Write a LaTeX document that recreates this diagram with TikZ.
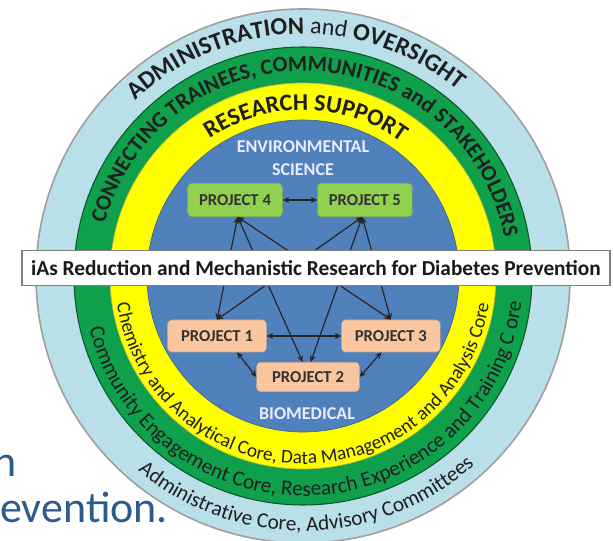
\documentclass[tikz,border=0pt]{standalone}
\usepackage{fontspec}
\setmainfont{Carlito}
\usetikzlibrary{positioning}
\usetikzlibrary{arrows.meta}
\usetikzlibrary{decorations.text}
\definecolor{adminblue}{HTML}{B9DFE9}
\definecolor{coregreen}{HTML}{0EA04A}
\definecolor{supportyellow}{HTML}{FFFF00}
\definecolor{scienceblue}{HTML}{4F81BD}
\definecolor{envgreen}{HTML}{92D050}
\definecolor{biopeach}{HTML}{F9C6A0}
\definecolor{slideblue}{HTML}{2D5C8A}
\tikzstyle{envproj}=[rectangle, rounded corners=3pt, fill=envgreen, draw=envgreen!85!black, minimum width=71pt, minimum height=25pt, inner sep=2pt, font=\fontsize{12.5}{13}\selectfont\bfseries, text=black!80]
\tikzstyle{bioproj}=[envproj, fill=biopeach, draw=biopeach!85!black, minimum width=74pt, minimum height=24pt]
\tikzstyle{area}=[text=white!92!blue, font=\fontsize{13.5}{17}\selectfont\bfseries, align=center]
\tikzstyle{link}=[<->, >={Stealth[length=5pt,width=4.5pt]}, line width=0.9pt, draw=black!85]
\tikzstyle{banner}=[rectangle, fill=white, draw=gray, line width=0.8pt, minimum width=441pt, minimum height=26pt, font=\fontsize{16}{18}\selectfont\bfseries, text=black!90]
\tikzstyle{slide}=[inner sep=0pt, text=slideblue, font=\fontsize{33}{33}\selectfont]
% fonts for the ring labels
\newcommand{\ringbf}{\fontsize{16.5}{16}\selectfont\bfseries\color{black!88}}
\newcommand{\ringmd}{\fontsize{16}{16}\selectfont\mdseries\color{black!88}}
\newcommand{\ringtext}[4]{\path[decorate, decoration={text along path, text align=center, text={#4}}] (#2:#1) arc[start angle=#2, end angle=#3, radius=#1];}

\begin{document}
\begin{tikzpicture}[x=0.75pt, y=0.75pt]
    \useasboundingbox (-303,-265) rectangle (310,276);
    \fill[white] (-303,-265) rectangle (310,276);

    % slide text behind the rings
    \node (prev) [slide, anchor=base west] at (-303,-246) {evention.};
    \node (redn) [slide, anchor=base east] at (-286,-200) {n};

    % rings
    \fill[adminblue, draw=gray!75, line width=1.2pt] (0,0) circle[radius=267];
    \fill[coregreen, draw=coregreen!55!black, line width=0.8pt] (0,0) circle[radius=229];
    \fill[supportyellow, draw=olive!60, line width=0.5pt] (0,0) circle[radius=193];
    \fill[scienceblue, draw=scienceblue!75!black, line width=0.5pt] (0,0) circle[radius=156];

    % ring labels
    \ringtext{242}{160}{24}{|\fontsize{18.5}{18}\selectfont\bfseries\color{black!88}|ADMINISTRATION |\fontsize{18}{18}\selectfont\mdseries\color{black!88}|and |\fontsize{18.5}{18}\selectfont\bfseries\color{black!88}|OVERSIGHT}
    \ringtext{205}{179}{-3}{|\ringbf|CONNECTING TRAINEES, COMMUNITIES and STAKEHOLDERS}
    \ringtext{166}{150}{28}{|\fontsize{18}{18}\selectfont\bfseries\color{black!88}|RESEARCH SUPPORT}
    \ringtext{188}{180}{360}{|\fontsize{14.5}{15}\selectfont\color{black!88}|Chemistry and Analytical Core, Data Management and Analysis Core}
    \ringtext{220}{190}{357}{|\ringmd|Community Engagement Core, Research Experience and Training C ore}
    \ringtext{255}{208}{334}{|\ringmd|Administrative Core, Advisory Committees}

    % projects
    \node (p4) [envproj] at (-68,76) {PROJECT 4};
    \node (p5) [envproj, right=26pt of p4] {PROJECT 5};
    \node (p1) [bioproj] at (-86,-60) {PROJECT 1};
    \node (p3) [bioproj, right=56pt of p1] {PROJECT 3};
    \node (p2) [bioproj, minimum width=77pt, minimum height=22pt] at (5,-101) {PROJECT 2};

    \node (env) [area] at (0,118) {ENVIRONMENTAL\\SCIENCE};
    \node (bio) [area] at (4,-138) {BIOMEDICAL};

    % links between projects
    \draw[link] (p4) -- (p5);
    \draw[link] (p1) -- (p3);
    \draw[link] ([xshift=15pt]p1.south) -- (p2.west);
    \draw[link] (p2.east) -- ([xshift=-7pt]p3.south);
    \draw[link] ([xshift=2pt]p4.south) -- (p1.north);
    \draw[link] ([xshift=2pt]p4.south) -- ([xshift=-4pt]p2.north);
    \draw[link] ([xshift=2pt]p4.south) -- (p3.north);
    \draw[link] ([xshift=-2pt]p5.south) -- (p1.north);
    \draw[link] ([xshift=-2pt]p5.south) -- ([xshift=2pt]p2.north);
    \draw[link] ([xshift=-2pt]p5.south) -- (p3.north);

    \node (title) [banner] at (13,8) {iAs Reduction and Mechanistic Research for Diabetes Prevention};
\end{tikzpicture}
\end{document}
